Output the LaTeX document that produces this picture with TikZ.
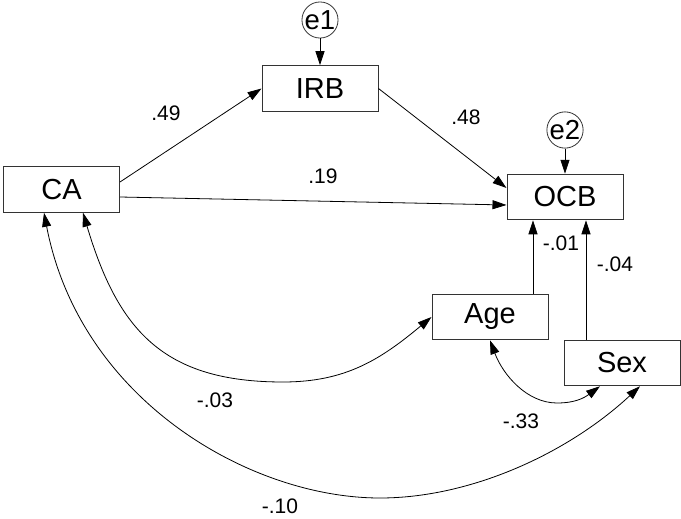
\documentclass[tikz,border=0pt]{standalone}
\usepackage{fontspec}
\setmainfont{Liberation Sans}
\usetikzlibrary{arrows.meta}
\begin{document}
\begin{tikzpicture}[x=1pt,y=-1pt,
  var/.style={draw=black!80,line width=1pt,fill=white,minimum width=116pt,minimum height=45.5pt,inner sep=0pt,font=\fontsize{29}{29}\selectfont},
  err/.style={draw=black!80,line width=0.8pt,circle,minimum size=34pt,inner sep=0pt,font=\fontsize{27.5}{27.5}\selectfont},
  path/.style={draw=black,line width=0.8pt,-{Triangle[length=14pt,width=9pt]}},
  cov/.style={draw=black,line width=0.8pt,{Triangle[length=14pt,width=9pt]}-{Triangle[length=14pt,width=9pt]}},
  coef/.style={font=\fontsize{21}{21}\selectfont,inner sep=0pt}]
\useasboundingbox (0,0) rectangle (681,519);

% observed variables
\node[var] (CA)  at (61.5,189.5) {CA};
\node[var] (IRB) at (320,88.5)   {IRB};
\node[var] (OCB) at (565,197)    {OCB};
\node[var] (Age) at (490,317)    {Age};
\node[var] (Sex) at (622,363)    {Sex};

% error terms
\node[err] (e1) at (320,20)  {e1};
\node[err] (e2) at (565,130) {e2};

% direct paths
\draw[path] (e1) -- (IRB.north);
\draw[path] (e2) -- (OCB.north);
\draw[path] ([yshift=7.5pt]CA.east) -- (IRB.west);
\draw[path] ([yshift=-7.5pt]CA.east) -- ([yshift=-8pt]OCB.west);
\draw[path] (IRB.east) -- ([yshift=9pt]OCB.west);
\draw[path] ([xshift=43pt]Age.north) -- ([xshift=43pt]Age.north |- OCB.south);
\draw[path] ([xshift=-36pt]Sex.north) -- ([xshift=-36pt]Sex.north |- OCB.south);

% covariances
\coordinate (lowA) at (283,382);
\coordinate (lowB) at (380,498);
\coordinate (lowC) at (557,403);
\draw[cov] ([xshift=21.5pt]CA.south) .. controls (118,330) and (163,382) .. (lowA)
  .. controls (345,382) and (380,360) .. (Age.west);
\draw[cov] ([xshift=-17.5pt]CA.south) .. controls (80,400) and (250,498) .. (lowB)
  .. controls (470,498) and (567,454) .. ([xshift=18pt]Sex.south);
\draw[cov] (Age.south) .. controls (503,375) and (527,403) .. (lowC)
  .. controls (575,403) and (584,398) .. ([xshift=-22pt]Sex.south);

% coefficients
\node[coef] (c1) at (166,113) {.49};
\node[coef] (c2) at (466,117) {.48};
\node[coef] (c3) at (323,176) {.19};
\node[coef] (c4) at (561,243) {-.01};
\node[coef] (c5) at (615,264) {-.04};
\node[coef] (c6) at (215,400) {-.03};
\node[coef] (c7) at (521,421) {-.33};
\node[coef] (c8) at (280,506) {-.10};
\end{tikzpicture}
\end{document}
